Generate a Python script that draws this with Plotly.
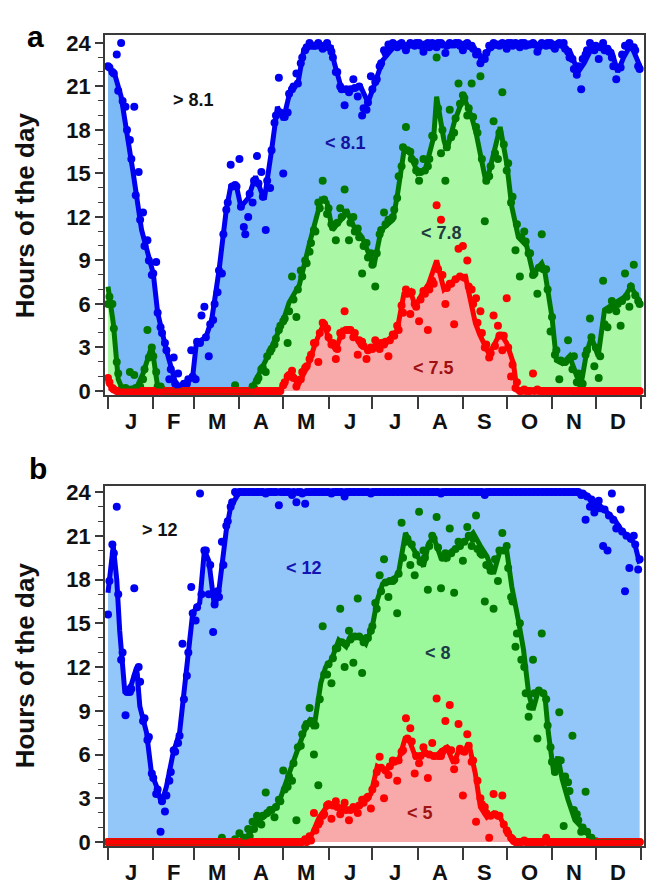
import plotly.graph_objects as go

# ---------------- data ----------------
MONTH_LABELS = ["J", "F", "M", "A", "M", "J", "J", "A", "S", "O", "N", "D"]
MONTH_STARTS = [0, 31, 59, 90, 120, 151, 181, 212, 243, 273, 304, 334, 365]

# Panel a: smoothed lines (vertex day, hours)
A_blue_line_days = [0, 5, 9, 13, 17, 23, 31, 34, 40, 47, 54, 58, 60.5, 67, 71, 76, 81, 84, 88, 91, 96, 101, 107, 112, 116, 120,
                    125, 130, 134, 138, 145, 153, 155, 160, 166, 173, 178, 182, 188, 197, 205, 215, 225, 235, 245, 252, 257,
                    262, 270, 280, 290, 300, 310, 316, 322, 326, 332, 340, 345, 349, 353, 358, 365]
A_blue_line = [22.5, 21.7, 20.3, 18.0, 15.2, 11.1, 8.1, 5.4, 2.8, 0.3, 0.55, 1.0, 3.3, 3.7, 4.9, 8.3, 12.5, 14.1, 14.1, 12.7,
               13.3, 14.8, 13.2, 16.6, 19.6, 18.7, 20.8, 21.2, 23.5, 23.8, 23.8, 23.7, 22.6, 20.8, 20.8, 21.0, 19.9, 21.0,
               22.8, 23.9, 23.8, 23.9, 23.8, 23.9, 23.8, 23.5, 22.9, 23.7, 23.9, 23.8, 23.9, 23.9, 23.8, 23.5, 22.0, 22.6,
               23.8, 23.7, 23.4, 22.0, 23.0, 23.9, 22.2]

A_green_line_days = [0, 3.6, 7, 10, 19, 24, 30, 34, 38, 98, 100, 108, 115, 119.5, 124, 131, 138, 142, 146, 150, 153.6, 157,
                     164, 168.5, 174, 182, 187, 195, 198, 203, 207, 212, 217, 223, 225, 230, 232, 237, 243.5, 249, 252, 259,
                     264, 268.5, 273, 276.5, 281, 286.7, 291, 297, 299, 304, 307, 311, 316, 321, 324, 327.6, 331, 335.6,
                     340, 346, 354, 358, 365]
A_green_line = [7.2, 4.7, 0.8, 0.1, 0.1, 1.2, 3.1, 0.3, 0, 0, 0.5, 2.1, 3.7, 4.7, 6.1, 7.3, 10.2, 11.8, 13.2, 13.0, 11.1,
                11.5, 12.3, 11.3, 10.6, 8.6, 11.1, 11.8, 13.4, 16.8, 16.4, 15.0, 15.2, 17.5, 20.3, 17.3, 16.6, 18.5, 20.3,
                18.9, 17.8, 14.3, 16.4, 18.2, 15.7, 12.7, 10.6, 10.0, 8.1, 8.8, 8.3, 5.1, 2.1, 1.9, 2.4, 1.0, 0.5, 2.6,
                3.7, 2.4, 5.6, 6.0, 6.5, 7.2, 6.0]

A_red_line_days = [0, 2, 5, 118, 120, 126, 131, 136.7, 142, 148, 151, 156, 160.5, 167, 173, 178.7, 185, 192, 198, 202.6,
                   207, 210.5, 215, 219.6, 225, 230, 234, 239, 244.7, 248, 251.5, 254.5, 260.6, 264, 268.5, 273, 277.6,
                   280, 365]
A_red_line = [0.5, 0.3, 0, 0, 0.5, 1.2, 0.6, 1.7, 3.3, 4.7, 3.6, 2.8, 4.2, 4.2, 3.1, 2.8, 3.3, 3.5, 4.2, 6.7, 6.9, 5.8,
              6.7, 7.4, 9.0, 7.0, 7.4, 7.8, 7.9, 6.5, 4.7, 3.9, 2.6, 3.1, 4.0, 3.3, 1.9, 0.07, 0]

# Panel a: observations, set 1 on days 0,3,6,... and set 2 on days 1,4,7,...
A_blue_dots = [22.4, 22.0, 23.2, 24.0, 19.6, 17.3, 19.6, 15.1, 12.3, 10.4,
               8.0, 8.9, 4.4, 3.3, 0.8, 2.3, 1.2, 0.3, 0.5, 2.8,
               0.8, 3.3, 5.8, 2.4, 4.9, 6.8, 8.1, 12.5, 15.6, 14.2,
               16.0, 11.3, 12.0, 13.0, 16.2, 15.1, 11.1, 14.0, 18.5, 21.6,
               15.0, 19.2, 20.8, 21.9, 22.6, 23.5, 24.0, 23.8, 24.0, 23.6,
               24.0, 23.4, 22.0, 21.0, 19.7, 20.6, 21.5, 20.3, 19.0, 19.4,
               21.7, 21.3, 22.4, 23.5, 23.9, 24.0, 23.7, 24.0, 23.5, 24.0,
               23.8, 24.0, 23.4, 24.0, 24.0, 23.7, 24.0, 23.3, 24.0, 23.9,
               24.0, 23.5, 24.0, 23.8, 23.2, 22.6, 22.9, 23.8, 24.0, 23.9,
               24.0, 23.6, 24.0, 24.0, 23.7, 24.0, 23.9, 24.0, 23.4, 24.0,
               23.8, 24.0, 23.6, 24.0, 24.0, 23.4, 22.9, 21.8, 20.8, 23.2,
               24.0, 23.5, 22.9, 24.0, 23.6, 23.0, 21.5, 22.3, 23.8, 24.0,
               23.7, 22.4]
A_blue_dots2 = [22.3, 21.9, 20.7, 20.0, 18.0, 16.0, 13.5, 11.8, 10.0, 9.0,
                8.1, 5.4, 4.0, 2.8, 1.5, 0.5, 0.3, 0.5, 0.8, 1.0,
                3.4, 5.2, 3.7, 4.6, 6.0, 8.3, 10.8, 13.0, 14.1, 14.1,
                12.7, 10.8, 13.6, 14.5, 14.3, 13.4, 14.5, 16.6, 19.0, 19.2,
                18.9, 20.5, 21.0, 21.2, 23.0, 23.7, 23.8, 23.8, 23.8, 23.8,
                23.7, 23.0, 22.0, 20.8, 20.8, 20.8, 20.9, 21.0, 19.5, 19.9,
                20.8, 21.5, 22.6, 23.3, 23.6, 23.9, 23.9, 23.8, 23.8, 23.9,
                24.0, 23.8, 23.9, 23.7, 23.8, 24.0, 23.9, 23.8, 23.9, 24.0,
                23.8, 23.9, 23.8, 23.6, 23.4, 22.9, 23.3, 23.7, 23.9, 23.8,
                23.9, 24.0, 23.8, 23.9, 24.0, 23.8, 23.9, 23.9, 23.7, 23.9,
                24.0, 23.8, 23.9, 23.9, 23.6, 23.0, 22.2, 22.4, 22.9, 23.5,
                23.8, 23.8, 23.7, 23.5, 23.4, 22.4, 22.3, 23.2, 23.8, 23.7,
                23.5, 22.2]
A_green_dots = [6.0, 6.0, 2.0, 0.1, 0.2, 1.3, 1.1, 0.1, 0.8, 4.2,
                3.0, 1.3, 0.3, 0, 0, 0, 0, 0, 0, 0,
                0, 0, 0, 0, 0, 0, 0, 0, 0, 0.4,
                0, 0, 0, 0.3, 0.7, 1.5, 1.3, 2.7, 3.2, 4.2,
                4.8, 3.3, 7.9, 5.1, 8.3, 9.0, 9.6, 11.1, 13.0, 14.5,
                12.2, 11.5, 10.4, 12.6, 13.9, 10.4, 12.0, 11.2, 8.1, 10.2,
                9.5, 7.2, 10.8, 12.3, 11.8, 12.0, 13.3, 15.5, 18.2, 16.5,
                15.8, 14.5, 16.0, 15.5, 17.6, 23.0, 16.4, 14.5, 19.4, 17.8,
                21.2, 20.4, 19.0, 21.2, 18.2, 21.7, 11.7, 14.8, 18.6, 16.0,
                20.6, 15.2, 13.0, 9.7, 7.9, 11.0, 9.5, 8.0, 6.7, 10.8,
                8.4, 4.1, 2.5, 0.8, 2.0, 3.5, 1.5, 0.6, 0.2, 2.5,
                5.0, 1.7, 0.9, 7.6, 4.4, 6.2, 5.5, 4.5, 8.1, 5.8,
                8.7, 6.2]
A_green_dots2 = [6.5, 4.3, 1.2, 0.1, 0.1, 0.1, 0.2, 0.3, 1.5, 2.3,
                 2.4, 0.3, 0.1, 0, 0, 0, 0, 0, 0, 0,
                 0, 0, 0, 0, 0, 0, 0, 0, 0, 0,
                 0, 0, 0, 0.2, 0.9, 1.6, 2.4, 2.9, 3.6, 4.5,
                 5.0, 5.5, 6.3, 7.0, 7.9, 8.8, 10.2, 11.0, 12.6, 13.2,
                 12.6, 11.3, 11.6, 12.0, 12.3, 11.6, 11.0, 10.6, 10.0, 9.2,
                 8.7, 9.5, 11.1, 11.5, 11.8, 12.5, 14.8, 16.8, 16.6, 16.0,
                 15.2, 15.1, 15.2, 16.0, 17.5, 19.5, 18.0, 16.8, 17.5, 18.8,
                 19.8, 20.2, 19.5, 18.9, 17.8, 16.0, 14.5, 15.5, 16.4, 17.8,
                 17.0, 15.7, 13.4, 11.5, 10.6, 10.3, 9.5, 8.1, 8.5, 8.4,
                 7.0, 5.1, 2.8, 2.1, 2.0, 2.2, 2.4, 1.2, 0.5, 2.8,
                 3.7, 3.0, 2.4, 4.6, 5.6, 5.8, 6.0, 6.2, 6.5, 7.2,
                 6.6, 6.0]
A_red_dots = [0.9, 0.2, 0, 0, 0, 0, 0, 0, 0, 0,
              0, 0, 0, 0, 0, 0, 0, 0, 0, 0,
              0, 0, 0, 0, 0, 0, 0, 0, 0, 0,
              0, 0, 0, 0, 0, 0, 0, 0, 0, 0,
              0.4, 1.0, 1.4, 0.3, 0.8, 1.6, 2.2, 3.3, 2.0, 4.7,
              4.3, 3.2, 2.2, 4.0, 5.5, 4.2, 3.7, 2.5, 3.4, 2.2,
              3.0, 3.5, 2.9, 3.2, 2.4, 3.9, 4.5, 5.9, 7.0, 5.3,
              6.0, 4.8, 6.9, 4.2, 7.6, 12.8, 11.8, 6.0, 7.4, 4.6,
              9.8, 10.0, 9.0, 7.0, 6.4, 5.5, 3.0, 2.3, 5.2, 4.5,
              2.8, 6.4, 1.0, 0.2, 0, 0.1, 0, 1.2, 0.1, 0,
              0, 0, 0, 0, 0, 0, 0, 0, 0, 0,
              0, 0, 0, 0, 0, 0, 0, 0, 0, 0,
              0, 0]
A_red_dots2 = [0.6, 0.1, 0, 0, 0, 0, 0, 0, 0, 0,
               0, 0, 0, 0, 0, 0, 0, 0, 0, 0,
               0, 0, 0, 0, 0, 0, 0, 0, 0, 0,
               0, 0, 0, 0, 0, 0, 0, 0, 0, 0,
               0.6, 1.1, 0.9, 0.6, 1.3, 1.7, 2.5, 3.3, 4.0, 4.6,
               3.7, 3.3, 2.9, 3.8, 4.2, 4.2, 4.0, 3.5, 3.1, 2.8,
               2.9, 3.1, 3.3, 3.4, 3.5, 3.8, 4.2, 5.4, 6.7, 6.8,
               5.8, 6.3, 6.7, 7.0, 7.4, 8.4, 8.0, 7.1, 7.4, 7.7,
               7.9, 7.8, 7.2, 6.0, 4.7, 4.0, 3.2, 2.6, 3.1, 3.8,
               3.8, 3.0, 1.8, 0.6, 0, 0, 0, 0, 0, 0,
               0, 0, 0, 0, 0, 0, 0, 0, 0, 0,
               0, 0, 0, 0, 0, 0, 0, 0, 0, 0,
               0, 0]

# Panel b: smoothed lines
B_blue_line_days = [0, 3.6, 6, 8, 11.6, 16, 19.6, 21.8, 26.4, 29.8, 33, 36.6, 40, 44.6, 49, 53.7, 58, 62.8, 66, 69, 73,
                    76, 81, 84, 90, 320, 326.5, 335.6, 340, 347, 351.5, 356, 360.6, 364]
B_blue_line = [17.1, 20.3, 18.0, 14.5, 10.2, 10.8, 12.0, 9.3, 7.5, 4.7, 3.9, 2.65, 3.8, 6.1, 7.5, 12.0, 15.7, 16.4, 20.0,
               19.3, 16.1, 17.3, 21.4, 23.0, 24, 24, 23.9, 23.2, 22.8, 22.1, 21.4, 21.0, 20.5, 19.1]

B_green_line_days = [0, 92, 94.6, 103.7, 110.5, 117, 124, 131, 135.5, 138, 141, 145.7, 149, 153, 158, 163, 166, 172,
                     176.5, 181, 184.4, 188, 195.8, 199, 203.7, 208, 211.7, 216, 219.6, 223, 227.6, 231, 235.5, 240, 245,
                     250, 255, 259.5, 264, 268.5, 273, 276.5, 281, 284.5, 288, 291, 294.7, 299, 301.5, 305, 308, 311,
                     315, 319.7, 326.5, 333, 365]
B_green_line = [0, 0, 0.3, 1.5, 2.0, 2.7, 4.7, 6.8, 7.9, 8.3, 7.8, 10.9, 12.0, 12.5, 13.85, 13.4, 14.1, 14.1, 13.6,
                14.8, 16.6, 17.7, 18.0, 18.5, 21.2, 20.3, 19.6, 18.9, 20.5, 20.9, 19.6, 19.4, 20.0, 20.2, 20.7, 21.2,
                20.3, 19.6, 18.4, 20.0, 20.0, 17.5, 15.2, 13.2, 10.2, 9.05, 10.4, 10.2, 7.5, 4.9, 5.85, 4.3, 2.9, 1.5,
                0.8, 0.05, 0]

B_red_line_days = [0, 135.5, 140, 144.6, 151.4, 156, 160.5, 167, 174, 180, 184.4, 190, 194.6, 199, 203.7, 207, 210.5,
                   217, 224, 228.7, 232, 236.7, 241, 243, 247, 251.5, 255, 259.5, 264, 268.5, 274, 277, 365]
B_red_line = [0, 0, 0.6, 1.7, 2.65, 2.4, 2.2, 2.2, 2.65, 3.3, 5.2, 4.9, 5.4, 5.6, 7.2, 6.8, 5.85, 6.1, 5.85, 6.3, 6.5,
              5.4, 6.5, 6.05, 6.8, 4.7, 2.4, 1.7, 2.0, 1.7, 0.6, 0, 0]

# Panel b: observations
B_blue_dots = [15.6, 20.4, 23.0, 12.5, 8.7, 10.3, 17.4, 12.0, 8.3, 7.0,
               4.7, 3.3, 0.7, 2.1, 4.2, 6.3, 6.8, 13.6, 11.4, 17.5,
               15.2, 23.9, 20.0, 17.0, 14.4, 17.2, 20.6, 21.7, 23.0, 24.0,
               24.0, 24.0, 24.0, 24.0, 24.0, 24.0, 23.9, 24.0, 24.0, 23.1,
               24.0, 24.0, 23.8, 23.3, 24.0, 23.2, 24.0, 24.0, 24.0, 24.0,
               24.0, 23.9, 24.0, 24.0, 23.7, 24.0, 24.0, 24.0, 24.0, 24.0,
               23.9, 24.0, 24.0, 24.0, 24.0, 24.0, 24.0, 24.0, 24.0, 24.0,
               24.0, 24.0, 24.0, 24.0, 24.0, 24.0, 23.9, 24.0, 24.0, 24.0,
               24.0, 24.0, 24.0, 24.0, 24.0, 24.0, 23.8, 24.0, 24.0, 24.0,
               24.0, 24.0, 24.0, 24.0, 24.0, 24.0, 24.0, 24.0, 24.0, 24.0,
               24.0, 24.0, 24.0, 24.0, 24.0, 24.0, 24.0, 24.0, 23.8, 22.1,
               23.0, 22.6, 23.4, 20.3, 20.0, 23.9, 21.5, 22.8, 17.2, 18.8,
               21.0, 18.7]
B_blue_dots2 = [17.9, 19.8, 17.0, 13.0, 10.3, 10.5, 11.4, 11.0, 8.5, 7.2,
                4.4, 3.6, 2.8, 3.2, 4.8, 6.2, 7.3, 9.8, 13.0, 15.7,
                16.1, 17.0, 20.0, 19.0, 16.3, 16.8, 19.0, 22.0, 23.3, 23.9,
                24.0, 24.0, 24.0, 24.0, 24.0, 24.0, 24.0, 24.0, 24.0, 24.0,
                24.0, 24.0, 24.0, 24.0, 23.9, 24.0, 24.0, 24.0, 24.0, 24.0,
                24.0, 24.0, 24.0, 24.0, 24.0, 24.0, 24.0, 24.0, 24.0, 24.0,
                24.0, 24.0, 24.0, 24.0, 24.0, 24.0, 24.0, 24.0, 24.0, 24.0,
                24.0, 24.0, 24.0, 24.0, 24.0, 24.0, 24.0, 24.0, 24.0, 24.0,
                24.0, 24.0, 24.0, 24.0, 24.0, 24.0, 24.0, 24.0, 24.0, 24.0,
                24.0, 24.0, 24.0, 24.0, 24.0, 24.0, 24.0, 24.0, 24.0, 24.0,
                24.0, 24.0, 24.0, 24.0, 24.0, 24.0, 24.0, 24.0, 23.9, 23.7,
                23.5, 23.1, 22.9, 22.8, 22.4, 22.1, 21.6, 21.3, 21.0, 20.8,
                20.4, 19.4]
B_green_dots = [0, 0, 0, 0, 0, 0, 0, 0, 0, 0,
                0, 0, 0, 0, 0, 0, 0, 0, 0, 0,
                0, 0, 0, 0, 0, 0, 0.3, 0, 0, 0.2,
                0.6, 0.3, 0.9, 1.4, 1.8, 1.2, 3.4, 2.2, 1.7, 2.9,
                4.9, 3.8, 4.2, 1.5, 6.6, 7.9, 9.2, 6.0, 3.9, 14.8,
                11.5, 10.9, 13.3, 16.0, 12.0, 14.5, 12.3, 16.7, 11.6, 14.0,
                14.5, 16.4, 18.3, 19.4, 16.8, 17.9, 15.7, 21.9, 20.6, 19.0,
                18.3, 22.65, 20.0, 17.3, 21.0, 22.3, 17.4, 19.8, 21.5, 17.1,
                20.6, 19.3, 21.6, 20.3, 22.4, 19.8, 16.5, 18.9, 16.0, 17.9,
                21.2, 20.3, 16.8, 13.4, 15.0, 12.0, 8.6, 12.5, 7.1, 14.3,
                9.8, 6.5, 4.8, 8.9, 1.1, 4.1, 7.3, 1.9, 0.7, 3.45,
                0.3, 0, 0, 0, 0, 0, 0, 0, 0, 0,
                0, 0]
B_green_dots2 = [0, 0, 0, 0, 0, 0, 0, 0, 0, 0,
                 0, 0, 0, 0, 0, 0, 0, 0, 0, 0,
                 0, 0, 0, 0, 0, 0, 0, 0, 0, 0,
                 0, 0.1, 0.4, 0.9, 1.4, 1.8, 2.0, 2.2, 2.4, 2.8,
                 3.6, 4.5, 5.4, 6.5, 7.4, 8.1, 8.3, 8.0, 9.8, 11.5,
                 12.2, 12.6, 13.3, 13.7, 13.6, 13.9, 14.1, 14.1, 13.7, 14.0,
                 14.8, 16.0, 17.2, 17.8, 17.9, 18.0, 18.4, 19.5, 20.8, 20.4,
                 19.7, 19.2, 19.5, 20.3, 20.8, 20.2, 19.5, 19.5, 19.8, 20.1,
                 20.3, 20.6, 21.0, 20.8, 20.1, 19.7, 19.0, 18.6, 19.4, 20.0,
                 20.0, 18.8, 16.5, 14.3, 12.5, 10.2, 9.3, 10.2, 10.4, 10.2,
                 8.0, 5.5, 5.2, 5.6, 4.5, 3.5, 2.2, 1.5, 1.0, 0.7,
                 0.3, 0.05, 0, 0, 0, 0, 0, 0, 0, 0,
                 0, 0]
B_red_dots = [0, 0, 0, 0, 0, 0, 0, 0, 0, 0,
              0, 0, 0, 0, 0, 0, 0, 0, 0, 0,
              0, 0, 0, 0, 0, 0, 0, 0, 0, 0,
              0, 0, 0, 0, 0, 0, 0, 0, 0, 0,
              0, 0, 0, 0, 0, 0.2, 0.4, 2.0, 1.2, 1.8,
              2.5, 1.6, 2.8, 1.9, 2.7, 1.5, 2.4, 2.0, 2.9, 3.0,
              2.3, 4.0, 5.85, 3.0, 4.6, 5.6, 4.2, 6.2, 8.5, 7.8,
              4.7, 5.4, 6.5, 4.4, 6.8, 9.85, 5.9, 8.3, 9.4, 5.0,
              8.1, 3.2, 7.4, 5.5, 1.4, 3.0, 2.4, 0.3, 3.3, 1.8,
              3.2, 0.8, 0.3, 0, 0, 0.1, 0, 0, 0, 0,
              0.3, 0, 0, 0, 0, 0, 0, 0, 0, 0,
              0, 0, 0, 0, 0, 0, 0, 0, 0, 0,
              0, 0]
B_red_dots2 = [0, 0, 0, 0, 0, 0, 0, 0, 0, 0,
               0, 0, 0, 0, 0, 0, 0, 0, 0, 0,
               0, 0, 0, 0, 0, 0, 0, 0, 0, 0,
               0, 0, 0, 0, 0, 0, 0, 0, 0, 0,
               0, 0, 0, 0, 0, 0, 0.1, 0.8, 1.4, 1.9,
               2.6, 2.5, 2.4, 2.3, 2.2, 2.2, 2.3, 2.5, 2.7, 3.1,
               3.6, 4.8, 5.1, 4.9, 5.2, 5.5, 5.6, 6.3, 7.1, 6.9,
               5.9, 5.9, 6.1, 6.0, 5.9, 5.9, 6.2, 6.4, 6.3, 5.6,
               6.4, 6.2, 6.6, 5.6, 4.2, 2.6, 2.0, 1.8, 1.9, 1.8,
               1.2, 0.6, 0.2, 0, 0, 0, 0, 0, 0, 0,
               0, 0, 0, 0, 0, 0, 0, 0, 0, 0,
               0, 0, 0, 0, 0, 0, 0, 0, 0, 0,
               0, 0]

DOT_STEP_DAYS = 3

# ---------------- styling ----------------
FONT = "Liberation Sans, Arial, sans-serif"
FRAME = "#3a3a3a"
BLUE, GREEN, RED = "#0000f0", "#007800", "#ff0000"

fig = go.Figure()


def panel(xa, ya, lines, dots, dots2, fills):
    for (days, vals), fc in zip(lines, fills):
        fig.add_trace(go.Scatter(x=days, y=vals, xaxis=xa, yaxis=ya, mode="lines",
                                 line=dict(width=0, color=fc), fill="tozeroy", fillcolor=fc,
                                 hoverinfo="skip", showlegend=False))
    for v1, v2, col in zip(dots, dots2, [BLUE, GREEN, RED]):
        xs = [DOT_STEP_DAYS * i for i in range(len(v1))] + [DOT_STEP_DAYS * i + 1 for i in range(len(v2))]
        fig.add_trace(go.Scatter(x=xs, y=list(v1) + list(v2),
                                 xaxis=xa, yaxis=ya, mode="markers",
                                 marker=dict(size=8, color=col, line=dict(width=0)),
                                 showlegend=False))
    for (days, vals), col in zip(lines, [BLUE, GREEN, RED]):
        fig.add_trace(go.Scatter(x=days, y=vals, xaxis=xa, yaxis=ya, mode="lines",
                                 line=dict(width=5, color=col), showlegend=False))


panel("x", "y",
      [(A_blue_line_days, A_blue_line), (A_green_line_days, A_green_line), (A_red_line_days, A_red_line)],
      [A_blue_dots, A_green_dots, A_red_dots],
      [A_blue_dots2, A_green_dots2, A_red_dots2],
      ["#7cbaf7", "#aaf7a6", "#f8aaaa"])
panel("x2", "y2",
      [(B_blue_line_days, B_blue_line), (B_green_line_days, B_green_line), (B_red_line_days, B_red_line)],
      [B_blue_dots, B_green_dots, B_red_dots],
      [B_blue_dots2, B_green_dots2, B_red_dots2],
      ["#93c6f9", "#9bf99b", "#f8aaaa"])

xcommon = dict(range=[-2.05, 367], tickmode="array", tickvals=MONTH_STARTS, ticktext=[""] * len(MONTH_STARTS),
               ticks="outside", ticklen=12, tickwidth=1.5, tickcolor=FRAME,
               showline=True, mirror=True, linecolor=FRAME, linewidth=1.5,
               showgrid=False, zeroline=False)
ycommon = dict(tickmode="linear", tick0=0, dtick=3, ticks="outside", ticklen=8, tickwidth=1.5, tickcolor=FRAME,
               minor=dict(tick0=0, dtick=1, ticks="outside", ticklen=5, tickwidth=1.2, tickcolor=FRAME),
               tickfont=dict(family=FONT, size=22, color="#111", weight="bold"),
               showline=True, mirror=True, linecolor=FRAME, linewidth=1.5,
               showgrid=False, zeroline=False)

fig.update_layout(
    width=649, height=885,
    margin=dict(l=105, r=3, t=35, b=39),
    paper_bgcolor="white", plot_bgcolor="white",
    xaxis=dict(domain=[0, 1], anchor="y", **xcommon),
    yaxis=dict(domain=[0.5561, 1], anchor="x", range=[-0.28, 24.55], **ycommon),
    xaxis2=dict(domain=[0, 1], anchor="y2", **xcommon),
    yaxis2=dict(domain=[0, 0.4439], anchor="x2", range=[-0.27, 24.42], **ycommon),
)

ann = []
H_PLOT = 811.0


def py(pix):
    return (846 - pix) / H_PLOT


def px(pix):
    return (pix - 105) / 541.0


mids = [(MONTH_STARTS[i] + MONTH_STARTS[i + 1]) / 2 for i in range(12)]
for m, lab in zip(mids, MONTH_LABELS):
    for xr, ypix in (("x", 421), ("x2", 872)):
        ann.append(dict(x=m, y=py(ypix), xref=xr, yref="paper", text=lab, showarrow=False,
                        font=dict(family=FONT, size=22, color="#111", weight="bold"),
                        xanchor="center", yanchor="middle"))
ann.append(dict(x=px(25), y=py(18), xref="paper", yref="paper", text="a", showarrow=False,
                font=dict(family=FONT, size=30, color="#000", weight="bold")))
ann.append(dict(x=px(27), y=py(468), xref="paper", yref="paper", text="b", showarrow=False,
                font=dict(family=FONT, size=30, color="#000", weight="bold")))
for ypix in (215, 665):
    ann.append(dict(x=px(25), y=py(ypix), xref="paper", yref="paper", text="Hours of the day",
                    textangle=-90, showarrow=False, xanchor="center", yanchor="middle",
                    font=dict(family=FONT, size=26, color="#111", weight="bold")))
labels = [
    ("x", "y", 58.7, 20.1, "> 8.1", "#111111"),
    ("x", "y", 162.3, 17.1, "< 8.1", "#1414a0"),
    ("x", "y", 228.5, 10.9, "< 7.8", "#1e3c3c"),
    ("x", "y", 222.9, 1.6, "< 7.5", "#a01010"),
    ("x2", "y2", 35.5, 21.4, "> 12", "#111111"),
    ("x2", "y2", 134.4, 18.8, "< 12", "#1414b4"),
    ("x2", "y2", 225.8, 13.0, "< 8", "#1e3c46"),
    ("x2", "y2", 213.5, 2.0, "< 5", "#a01414"),
]
for xr, yr, xv, yv, t, c in labels:
    ann.append(dict(x=xv, y=yv, xref=xr, yref=yr, text=t, showarrow=False,
                    font=dict(family=FONT, size=18, color=c, weight="bold")))

fig.update_layout(annotations=ann)
fig.write_html("out.html", config={"displayModeBar": False},
               post_script="document.body.style.margin='0px';document.body.style.padding='0px';"
                           "document.body.style.overflow='hidden';")
